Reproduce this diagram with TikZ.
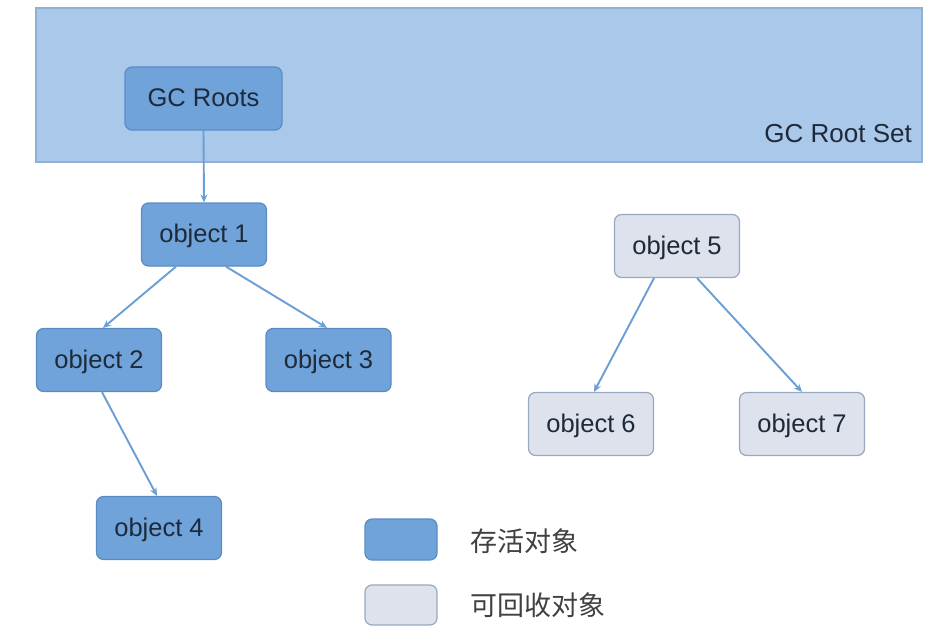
\documentclass[tikz,border=0pt]{standalone}
\usepackage{fontspec}
\setmainfont{Liberation Sans}
\newfontfamily\cjk{Noto Sans CJK SC}
\usetikzlibrary{arrows.meta}
\definecolor{setfill}{HTML}{AAC8EA}
\definecolor{setdraw}{HTML}{8FB0D8}
\definecolor{livefill}{HTML}{6FA3DA}
\definecolor{livedraw}{HTML}{5A8CC4}
\definecolor{deadfill}{HTML}{DDE2EC}
\definecolor{deaddraw}{HTML}{98A8C0}
\definecolor{txt}{HTML}{1E2A3A}
\definecolor{arr}{HTML}{6A9FD6}
\tikzset{
  box/.style={rounded corners=7pt, line width=1.2pt, minimum width=125pt, minimum height=63pt, font=\fontsize{25.5}{28}\selectfont, text=txt, inner sep=0pt, text height=18pt, text depth=2pt},
  live/.style={box, fill=livefill, draw=livedraw},
  dead/.style={box, fill=deadfill, draw=deaddraw},
  link/.style={draw=arr, line width=1.9pt, -{Stealth[length=8pt,width=7pt]}},
  legtxt/.style={font=\cjk\fontsize{27}{30}\selectfont, text=black!75, anchor=west, inner sep=0pt}
}
\begin{document}
\begin{tikzpicture}[x=1pt,y=-1pt]
\useasboundingbox (0,0) rectangle (944,637);
\fill[white] (0,0) rectangle (944,637);
\node[draw=setdraw, fill=setfill, line width=1.2pt, minimum width=886pt, minimum height=154pt, inner sep=0pt] (set) at (479,85) {};
\node[font=\fontsize{26}{28}\selectfont, text=txt, anchor=east, inner sep=0pt] (setlbl) at (912,134) {GC Root Set};
\node[live, minimum width=157pt] (roots) at (203.5,98.5) {GC Roots};
\node[live] (o1) at (204,234.5) {object 1};
\node[live] (o2) at (99,360) {object 2};
\node[live] (o3) at (328.5,360) {object 3};
\node[live] (o4) at (159,528) {object 4};
\node[dead] (o5) at (677,246) {object 5};
\node[dead] (o6) at (591,424) {object 6};
\node[dead] (o7) at (802,424) {object 7};
\node[live, minimum width=72pt, minimum height=41pt] (leg1) at (401,539.5) {};
\node[dead, minimum width=72pt, minimum height=40pt] (leg2) at (401,605) {};
\node[legtxt] (leg1t) at (470,541) {存活对象};
\node[legtxt] (leg2t) at (470,605) {可回收对象};
\draw[link] (roots.south) -- (o1.north);
\draw[link] (o1.south -| 176,0) -- (o2.north -| 103,0);
\draw[link] (o1.south -| 226,0) -- (o3.north -| 327,0);
\draw[link] (o2.south -| 102,0) -- (o4.north -| 157,0);
\draw[link] (o5.south -| 654,0) -- (o6.north -| 594,0);
\draw[link] (o5.south -| 697,0) -- (o7.north -| 802,0);
\end{tikzpicture}
\end{document}
